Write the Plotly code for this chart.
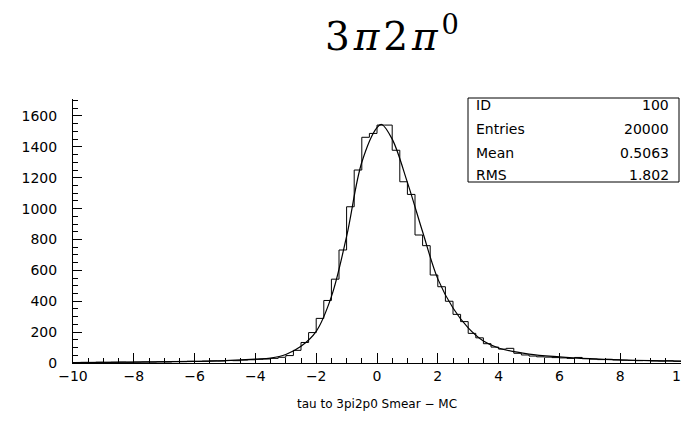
import numpy as np
import plotly.graph_objects as go

# Histogram: 80 bins of width 0.25 from -10 to 10
bin_edges = np.linspace(-10, 10, 81)
counts = [
    3, 4, 3, 5, 4, 5, 6, 5, 6, 7, 6, 8, 7, 10, 9, 11,
    10, 12, 14, 13, 16, 15, 19, 21, 24, 26, 30, 37,
    48, 82, 133, 197, 289, 405, 543, 732,
    1012, 1250, 1462, 1487, 1541, 1541, 1378, 1174,
    1092, 829, 760, 570, 494, 400, 315, 268,
    192, 163, 125, 103, 90, 95, 63, 52,
    45, 40, 38, 35, 33, 30, 36, 28, 25, 22, 24, 20, 18, 17, 15, 16, 13, 12, 14, 11,
]

# Fitted curve
fit_x = [-10, -8, -6, -5, -4, -3.5, -3, -2.5, -2, -1.5, -1, -0.5, 0, 0.15, 0.5, 1,
         1.5, 2, 2.5, 3, 3.5, 4, 5, 6, 7, 8, 9, 10]
fit_y = [3, 6, 11, 16, 25, 32, 55, 108, 205, 430, 820, 1300, 1525, 1545, 1450, 1170,
         850, 545, 356, 227, 142, 97, 58, 40, 28, 20, 15, 12]

stats_labels = ["ID", "Entries", "Mean", "RMS"]
stats_values = ["100", "20000", "0.5063", "1.802"]

HS = "\u200a"
title_text = "3" + HS + "<i>π</i>" + HS + "2" + HS + "<i>π</i>" + HS + "<sup>0</sup>"
xtitle_text = "tau to 3pi2p0 Smear − MC"

# The page body has an 8px margin on every side; size the figure so the page fits the window.
OFF = 8
W, H = 689 - 2 * OFF, 424 - 2 * OFF
PL, PR, PT, PB = 73, 681, 99, 363  # plot area in window pixels


def px(xw):
    return (xw - PL) / (PR - PL)


def py(yw):
    return (PB - yw) / (PB - PT)


fig = go.Figure()
fig.add_trace(go.Scatter(
    x=list(bin_edges), y=counts + [counts[-1]],
    mode="lines", line=dict(shape="hv", color="black", width=1),
    hoverinfo="skip", showlegend=False, cliponaxis=False,
))
fig.add_trace(go.Scatter(
    x=fit_x, y=fit_y, mode="lines",
    line=dict(shape="spline", smoothing=1.0, color="black", width=1.2),
    hoverinfo="skip", showlegend=False,
))

font_family = "DejaVu Sans, Liberation Sans, sans-serif"
fig.update_layout(
    width=W, height=H,
    margin=dict(l=PL - OFF, r=W + OFF - PR, t=PT - OFF, b=H + OFF - PB, pad=0,
                autoexpand=False),
    paper_bgcolor="white", plot_bgcolor="white",
    font=dict(family=font_family, size=13, color="black"),
    xaxis=dict(
        range=[-10, 10], tickmode="linear", tick0=-10, dtick=2,
        ticks="inside", ticklen=10, tickwidth=1, tickcolor="black",
        minor=dict(dtick=0.5, ticks="inside", ticklen=5, tickwidth=1, tickcolor="black"),
        showline=True, linecolor="black", linewidth=1,
        showgrid=False, zeroline=False, automargin=False,
        tickfont=dict(size=14), ticklabeloverflow="allow",
        title=dict(text=xtitle_text, font=dict(size=12), standoff=16),
    ),
    yaxis=dict(
        range=[0, 1710], tickmode="linear", tick0=0, dtick=200,
        ticks="inside", ticklen=9, tickwidth=1, tickcolor="black",
        minor=dict(dtick=50, ticks="inside", ticklen=5, tickwidth=1, tickcolor="black"),
        showline=True, linecolor="black", linewidth=1,
        showgrid=False, zeroline=False, automargin=False,
        tickfont=dict(size=14), ticklabelstandoff=12,
    ),
)

# Title
fig.add_annotation(
    xref="paper", yref="paper", x=px(392), y=py(34),
    text=title_text, showarrow=False, xanchor="center", yanchor="middle",
    font=dict(family="DejaVu Serif, Liberation Serif, serif", size=39, color="black"),
)

# Stats box
fig.add_shape(type="rect", xref="paper", yref="paper",
              x0=px(468), x1=px(679), y0=py(182), y1=py(98),
              line=dict(color="black", width=1), fillcolor="white", layer="above")
row_y = [105, 129, 153, 175]
for lab, val, yw in zip(stats_labels, stats_values, row_y):
    fig.add_annotation(xref="paper", yref="paper", x=px(474), y=py(yw), text=lab,
                       showarrow=False, xanchor="left", yanchor="middle",
                       font=dict(size=14, family=font_family))
    fig.add_annotation(xref="paper", yref="paper", x=px(671), y=py(yw), text=val,
                       showarrow=False, xanchor="right", yanchor="middle",
                       font=dict(size=14, family=font_family))

fig.write_html("out.html")
